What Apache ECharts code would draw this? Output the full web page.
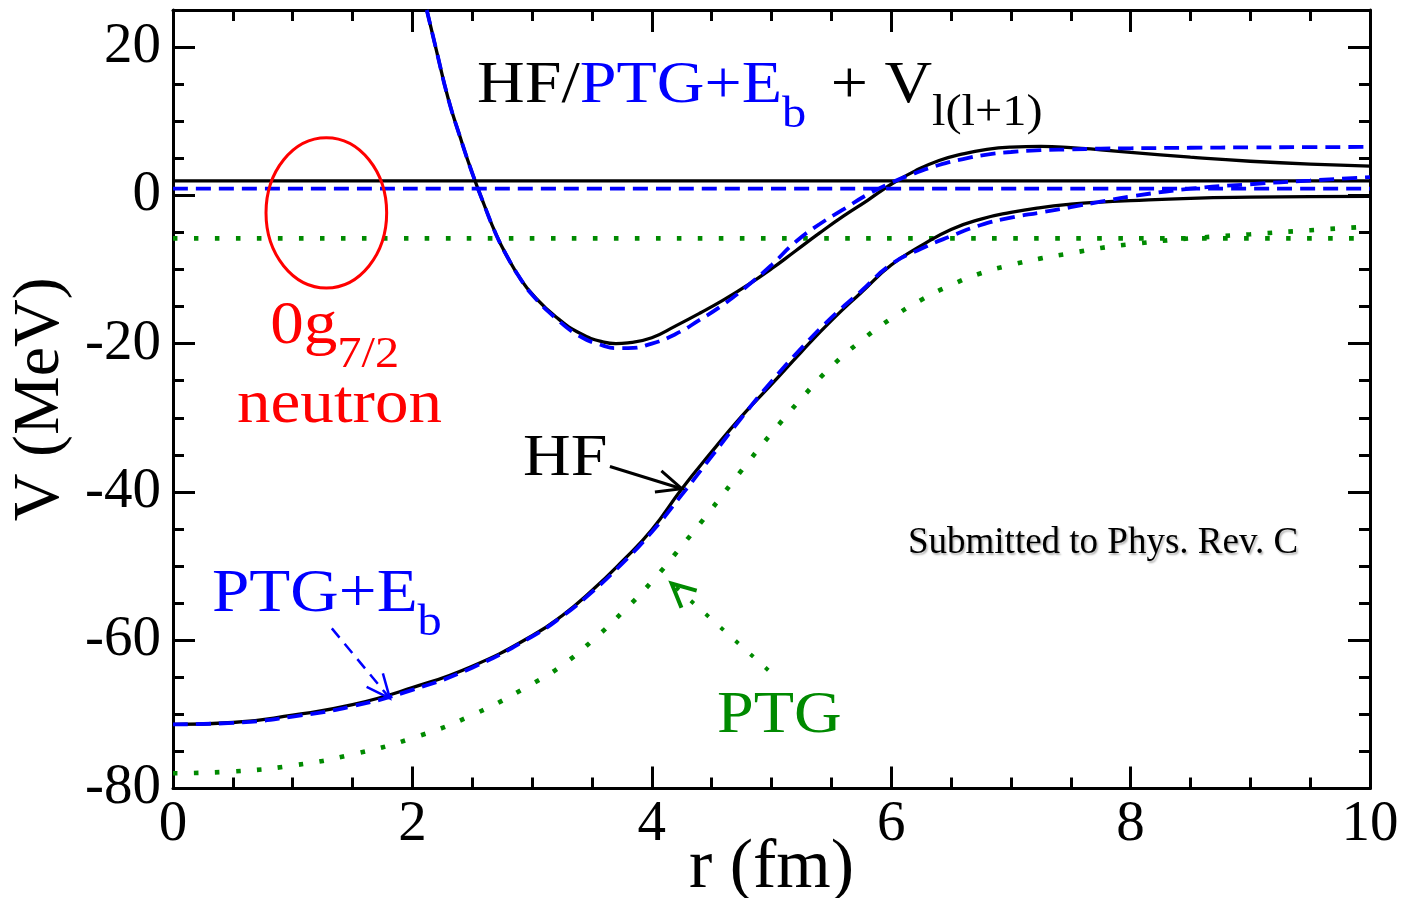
<!DOCTYPE html>
<html>
<head>
<meta charset="utf-8">
<title>HF / PTG effective potentials</title>
<script src="https://cdn.jsdelivr.net/npm/echarts@6/dist/echarts.min.js"></script>
<style>
  html, body { margin: 0; padding: 0; background: #ffffff; }
  #chart { width: 1406px; height: 898px; }
</style>
</head>
<body>
<div id="chart"></div>
<script>
// ---- data (r in fm, V in MeV) ----
const rCentral = [0, 0.5, 1, 1.5, 2, 2.5, 3, 3.25, 3.5, 3.75, 4, 4.25, 4.5, 4.75, 5, 5.25, 5.5, 5.75, 6, 6.25, 6.5, 6.75, 7, 7.25, 7.5, 7.75, 8, 8.5, 9, 9.5, 10];
const hfCentral = [-71.35, -71.1, -70.1, -68.7, -66.4, -63.5, -59.4, -56.7, -53.3, -49.4, -45.1, -39.6, -34.6, -29.8, -25.5, -21.1, -16.9, -13.1, -9.4, -6.8, -4.6, -3.2, -2.3, -1.65, -1.2, -0.9, -0.7, -0.4, -0.25, -0.18, -0.15];
const ptgEbCentral = [-71.35, -71.15, -70.3, -68.9, -66.7, -63.7, -59.5, -56.8, -53.5, -49.7, -45.4, -40.4, -35.2, -30.0, -25.1, -20.6, -16.5, -12.9, -9.3, -7.2, -5.5, -4.0, -3.0, -2.3, -1.6, -0.85, -0.15, 0.9, 1.5, 2.0, 2.45];
const ptgCentral = [-77.95, -77.7, -76.9, -75.4, -73.2, -70.1, -65.9, -63.4, -60.1, -56.3, -52.1, -47.3, -42.3, -37.1, -32.1, -27.4, -23.1, -19.6, -16.6, -14.1, -12.1, -10.5, -9.4, -8.5, -7.8, -7.1, -6.6, -5.8, -5.25, -4.7, -4.2];

// central + l(l+1) barrier
const rEff = [2.12, 2.2, 2.3, 2.4, 2.5, 2.6, 2.7, 2.8, 2.9, 3.0, 3.2, 3.4, 3.6, 3.7, 3.8, 4.0, 4.2, 4.4, 4.6, 4.8, 5.0, 5.2, 5.4, 5.6, 5.8, 6.0, 6.2, 6.4, 6.6, 6.8, 7.0, 7.25, 7.5, 7.75, 8.0, 8.5, 9.0, 9.5, 10];
const hfEff = [25, 19.6, 13.0, 7.8, 3.0, -1.3, -5.3, -8.5, -11.2, -13.3, -16.4, -18.6, -19.8, -20.0, -19.9, -19.2, -17.6, -15.9, -14.1, -12.1, -9.9, -7.5, -5.1, -2.8, -0.7, 1.5, 3.3, 4.7, 5.6, 6.2, 6.5, 6.6, 6.45, 6.15, 5.8, 5.15, 4.6, 4.2, 3.95];
const ptgEbEff = [25, 19.6, 13.0, 7.8, 3.0, -1.3, -5.3, -8.5, -11.2, -13.4, -16.6, -19.0, -20.3, -20.6, -20.6, -20.0, -18.7, -16.8, -14.7, -12.2, -9.4, -6.3, -3.9, -1.9, 0.1, 1.7, 3.0, 4.1, 4.9, 5.5, 5.85, 6.1, 6.2, 6.3, 6.35, 6.42, 6.47, 6.5, 6.53];

// single-particle energies of the 0g7/2 neutron level
const hfLevel = 1.95;
const ptgEbLevel = 0.9;
const ptgLevel = -5.8;

const xTicks = { min: 0, max: 10, step: 2 };
const yTicks = { min: -80, max: 25, step: 20, minorStep: 5 };

// ---- styling ----
const FONT = '"Liberation Serif", "Times New Roman", Times, serif';
const BLACK = '#000000', BLUE = '#0000ff', GREEN = '#008a00', RED = '#ff0000';
const STRETCH = 1.1;   // horizontal widening of the annotation lettering

const pairs = (xs, ys) => xs.map((x, i) => [x, ys[i]]);
const level = v => [[xTicks.min, v], [xTicks.max, v]];

const solid = { color: BLACK, width: 3.3 };
const dashed = { color: BLUE, width: 3.8, type: [15, 8] };
const dotted = { color: GREEN, width: 4.6, type: [4.6, 16.4], cap: 'butt' };

function lineSeries(name, data, style, z) {
  return {
    name, type: 'line', data, symbol: 'none', smooth: 0.5,
    lineStyle: style, z, xAxisIndex: 0, yAxisIndex: 0, silent: true
  };
}

function frameX(pos, withLabels) {
  return {
    type: 'value', position: pos, min: xTicks.min, max: xTicks.max, interval: xTicks.step,
    axisLine: { show: true, onZero: false, lineStyle: { color: BLACK, width: 3 } },
    axisTick: { show: true, inside: true, length: 22, lineStyle: { color: BLACK, width: 3 } },
    minorTick: { show: true, splitNumber: 4, length: 11, lineStyle: { color: BLACK, width: 3 } },
    splitLine: { show: false },
    axisLabel: withLabels
      ? { show: true, margin: 8, color: BLACK, fontFamily: FONT, fontSize: 57 }
      : { show: false },
    name: withLabels ? 'r (fm)' : '',
    nameLocation: 'middle', nameGap: 45, nameMoveOverlap: false,
    nameTextStyle: { color: BLACK, fontFamily: FONT, fontSize: 70 }
  };
}

function frameY(pos, step, tickLen, withLabels, showLine) {
  return {
    type: 'value', position: pos, min: yTicks.min, max: yTicks.max, interval: step,
    axisLine: { show: showLine, onZero: false, lineStyle: { color: BLACK, width: 3 } },
    axisTick: { show: true, inside: true, length: tickLen, lineStyle: { color: BLACK, width: 3 } },
    splitLine: { show: false },
    axisLabel: withLabels
      ? { show: true, margin: 12, color: BLACK, fontFamily: FONT, fontSize: 57,
          formatter: v => (v % yTicks.step === 0 ? String(v) : '') }
      : { show: false },
    name: withLabels ? 'V (MeV)' : '',
    nameLocation: 'middle', nameGap: 98,
    nameTextStyle: { color: BLACK, fontFamily: FONT, fontSize: 66 }
  };
}

const chart = echarts.init(document.getElementById('chart'), null, { renderer: 'canvas' });

const option = {
  animation: false,
  backgroundColor: '#ffffff',
  grid: { left: 173, right: 36, top: 10, bottom: 109.5, containLabel: false, outerBoundsMode: 'none' },
  xAxis: [frameX('bottom', true), frameX('top', false)],
  yAxis: [
    frameY('left', yTicks.step, 22, true, true),
    frameY('left', yTicks.minorStep, 11, false, false),
    frameY('right', yTicks.step, 22, false, true),
    frameY('right', yTicks.minorStep, 11, false, false)
  ],
  series: [
    lineSeries('PTG level', level(ptgLevel), dotted, 2),
    lineSeries('PTG', pairs(rCentral, ptgCentral), dotted, 2),
    lineSeries('HF level', level(hfLevel), solid, 3),
    lineSeries('HF', pairs(rCentral, hfCentral), solid, 3),
    lineSeries('HF + Vl(l+1)', pairs(rEff, hfEff), solid, 3),
    lineSeries('PTG+Eb level', level(ptgEbLevel), dashed, 4),
    lineSeries('PTG+Eb', pairs(rCentral, ptgEbCentral), dashed, 4),
    lineSeries('PTG+Eb + Vl(l+1)', pairs(rEff, ptgEbEff), dashed, 4)
  ]
};
chart.setOption(option);

// ---- annotations ----
const toPx = (r, v) => chart.convertToPixel({ xAxisIndex: 0, yAxisIndex: 0 }, [r, v]);
const measureCtx = document.createElement('canvas').getContext('2d');
function metrics(size) {
  measureCtx.font = size + 'px ' + FONT;
  measureCtx.textBaseline = 'middle';
  return measureCtx.measureText('H').actualBoundingBoxDescent;
}
function advance(text, size) {
  measureCtx.font = size + 'px ' + FONT;
  return measureCtx.measureText(text).width;
}

const elements = [];

// a line of text made of runs; anchor is the baseline start in data units
function textRuns(anchor, parts, sx, extra) {
  const p = toPx(anchor[0], anchor[1]);
  let x = p[0];
  parts.forEach(part => {
    const base = p[1] + (part.dy || 0);
    x += part.gap || 0;
    elements.push({
      type: 'text', x: x, y: base - metrics(part.size), scaleX: sx, z: 50, silent: true,
      style: Object.assign({
        text: part.t, fill: part.color, font: part.size + 'px ' + FONT,
        textAlign: 'left', textVerticalAlign: 'middle'
      }, extra || {})
    });
    x += advance(part.t, part.size) * sx;
  });
}

function arrow(tail, tip, color, width, dash, headLen, headDeg) {
  const a = toPx(tail[0], tail[1]);
  const b = toPx(tip[0], tip[1]);
  const ang = Math.atan2(b[1] - a[1], b[0] - a[0]);
  const h = headDeg * Math.PI / 180;
  const h1 = [b[0] - headLen * Math.cos(ang - h), b[1] - headLen * Math.sin(ang - h)];
  const h2 = [b[0] - headLen * Math.cos(ang + h), b[1] - headLen * Math.sin(ang + h)];
  elements.push({
    type: 'polyline', z: 50, silent: true, shape: { points: [a, b] },
    style: { stroke: color, lineWidth: width, lineDash: dash, fill: 'none', lineCap: 'butt' }
  });
  elements.push({
    type: 'polyline', z: 50, silent: true, shape: { points: [h1, b, h2] },
    style: { stroke: color, lineWidth: width, fill: 'none', lineJoin: 'miter' }
  });
}

// title
textRuns([2.54, 12.6], [
  { t: 'HF/', size: 60, color: BLACK },
  { t: 'PTG+E', size: 60, color: BLUE },
  { t: 'b', size: 44, color: BLUE, dy: 25 },
  { t: ' + V', size: 60, color: BLACK, gap: 8 },
  { t: 'l(l+1)', size: 44, color: BLACK, dy: 23 }
], STRETCH);

// level marker
const c = toPx(1.281, -2.36);
const edge = toPx(1.281 + 0.504, -2.36 + 10.14);
elements.push({
  type: 'ellipse', z: 50, silent: true,
  shape: { cx: c[0], cy: c[1], rx: edge[0] - c[0], ry: c[1] - edge[1] },
  style: { stroke: RED, lineWidth: 3, fill: 'none' }
});
textRuns([0.812, -19.87], [
  { t: '0g', size: 61, color: RED },
  { t: '7/2', size: 44, color: RED, dy: 24 }
], STRETCH);
textRuns([0.535, -30.51], [{ t: 'neutron', size: 61, color: RED }], STRETCH);

// curve labels
textRuns([2.924, -37.78], [{ t: 'HF', size: 60, color: BLACK }], STRETCH);
arrow([3.65, -36.57], [4.25, -39.57], BLACK, 3, null, 27, 24);

textRuns([0.326, -56.09], [
  { t: 'PTG+E', size: 61, color: BLUE },
  { t: 'b', size: 44, color: BLUE, dy: 24 }
], STRETCH);
arrow([1.327, -58.4], [1.812, -67.85], BLUE, 2.5, [12, 8], 26, 24);

textRuns([4.545, -72.39], [{ t: 'PTG', size: 60, color: GREEN }], STRETCH);
arrow([4.973, -64.04], [4.166, -52.36], GREEN, 4, [4, 16], 26, 26);

textRuns([6.14, -48.28], [{ t: 'Submitted to Phys. Rev. C', size: 37, color: BLACK }], 1, {
  textShadowColor: 'rgba(0,0,0,0.3)', textShadowBlur: 2, textShadowOffsetX: 1.5, textShadowOffsetY: 1.5
});

chart.setOption({ graphic: { elements: elements } });
</script>
</body>
</html>
